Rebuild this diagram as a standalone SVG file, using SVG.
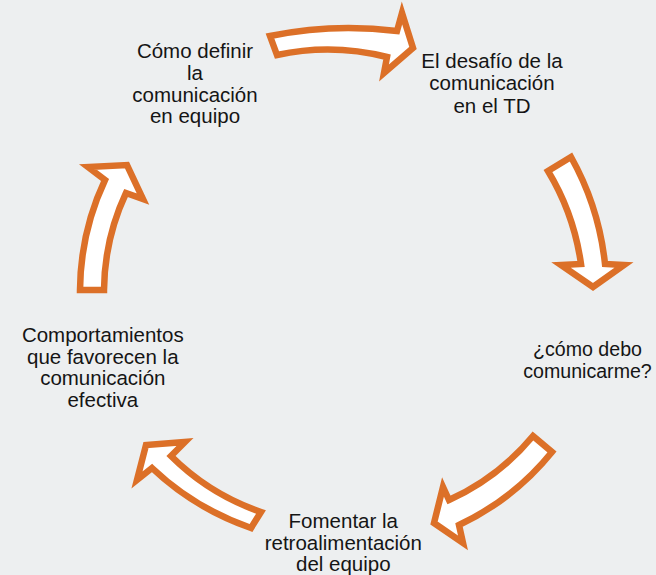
<svg xmlns="http://www.w3.org/2000/svg" width="656" height="575" viewBox="0 0 656 575">
<style>
.arr{fill:#ffffff;stroke:#DC7028;stroke-width:6.5;stroke-linejoin:miter;stroke-miterlimit:10}
.lbl{font-family:"Liberation Sans",Arial,sans-serif;font-size:20.5px;fill:#151515;text-anchor:middle}
</style>
<rect x="0" y="0" width="656" height="575" fill="#EDEFF0"/>
<g id="connectors">
<path class="arr" d="M270,36 Q333,23 397,31 L402,13 L413,48 L384,73 L387,57 Q332,43 277,55 Z"/>
<path class="arr" d="M548,171 L571,157 Q599,207 605,264 L624,265 L593,287 L561,265 L581,264 Q574,214 548,171 Z"/>
<path class="arr" d="M533,436 L552,452 Q514,499 459,525 L463,543 L434,523 L443,487 L449,500 Q499,477 533,436 Z"/>
<path class="arr" d="M261,512 L251,528 Q194,508 152,468 L137,480 L146,445 L185,442 L171,456 Q209,494 261,512 Z"/>
<path class="arr" d="M80,290 L104,290 Q104.5,239 126,193 L143,199 L127,165 L88,167 L105,180 Q80.5,232 80,290 Z"/>
</g>
<g id="node1">
<text class="lbl" x="195" y="58">Cómo definir</text>
<text class="lbl" x="195" y="80">la</text>
<text class="lbl" x="195" y="101.5">comunicación</text>
<text class="lbl" x="195" y="123">en equipo</text>
</g>
<g id="node2">
<text class="lbl" x="492" y="67.5">El desafío de la</text>
<text class="lbl" x="492" y="90">comunicación</text>
<text class="lbl" x="492" y="112.5">en el TD</text>
</g>
<g id="node3">
<text class="lbl" x="587.5" y="356" style="font-size:19.6px">¿cómo debo</text>
<text class="lbl" x="587.5" y="378" style="font-size:19.6px">comunicarme?</text>
</g>
<g id="node4">
<text class="lbl" x="343.3" y="528">Fomentar la</text>
<text class="lbl" x="343.3" y="549.5">retroalimentación</text>
<text class="lbl" x="343.3" y="571">del equipo</text>
</g>
<g id="node5">
<text class="lbl" x="102.8" y="342">Comportamientos</text>
<text class="lbl" x="102.8" y="363.5">que favorecen la</text>
<text class="lbl" x="102.8" y="385">comunicación</text>
<text class="lbl" x="102.8" y="406.5">efectiva</text>
</g>
</svg>
